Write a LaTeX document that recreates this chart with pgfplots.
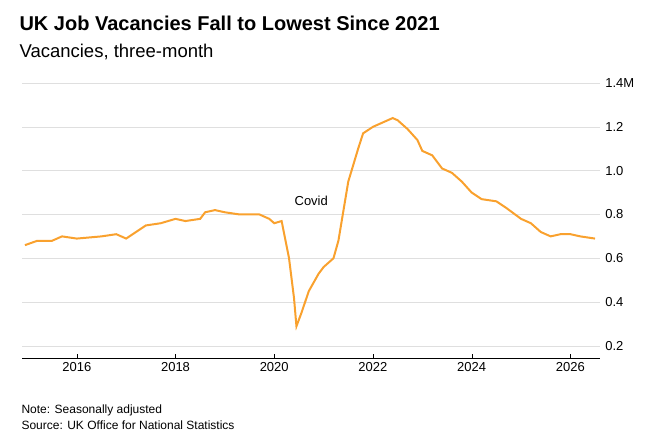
\documentclass[border=0pt]{standalone}
\usepackage{pgfplots}
\pgfplotsset{compat=1.18}
\usepackage{fontspec}
\setmainfont{Liberation Sans}
\definecolor{org}{HTML}{F9A12E}
\begin{document}
\begin{tikzpicture}
\path (0pt,0pt) rectangle (652pt,441pt);
\node[anchor=west,font=\bfseries\fontsize{20}{24}\selectfont] at (16pt,418pt) {UK Job Vacancies Fall to Lowest Since 2021};
\node[anchor=west,font=\fontsize{18.5}{22}\selectfont] at (16pt,389pt) {Vacancies, three-month};
\node[anchor=west,font=\fontsize{12}{14}\selectfont] at (18pt,31pt) {Note: Seasonally adjusted};
\node[anchor=west,font=\fontsize{12}{14}\selectfont] at (18pt,16pt) {Source: UK Office for National Statistics};
\begin{axis}[at={(22pt,83pt)},anchor=south west,scale only axis,width=578pt,height=275pt,
 xmin=2014.89,xmax=2026.6,ymin=0.145,ymax=1.4,
 axis y line*=right, axis x line*=bottom, y axis line style={draw=none},
 ytick={0.2,0.4,0.6,0.8,1.0,1.2,1.4},
 yticklabels={0.2,0.4,0.6,0.8,1.0,1.2,1.4\rlap{M}},
 yticklabel style={anchor=east,xshift=27pt,font=\fontsize{13}{15}\selectfont},
 ymajorgrids, grid style={gray!25},
 xtick={2016,2018,2020,2022,2024,2026},
 xticklabel style={font=\fontsize{13}{15}\selectfont,/pgf/number format/1000 sep={}},
 /pgf/number format/assume math mode=true,
 major tick length=4pt, tick style={black}, ytick style={draw=none},
 x tick label style={yshift=-1pt}, clip=false]
\addplot[org,line width=2pt] coordinates {
(2014.95,0.66)(2015.2,0.68)(2015.5,0.68)(2015.7,0.70)(2016,0.69)(2016.5,0.70)(2016.8,0.71)(2017.0,0.69)(2017.2,0.72)(2017.4,0.75)(2017.7,0.76)(2018.0,0.78)(2018.2,0.77)(2018.5,0.78)(2018.6,0.81)(2018.8,0.82)(2019.0,0.81)(2019.3,0.80)(2019.7,0.80)(2019.9,0.78)(2020.0,0.76)(2020.15,0.77)(2020.3,0.60)(2020.4,0.42)(2020.45,0.29)(2020.55,0.35)(2020.7,0.45)(2020.9,0.53)(2021.0,0.56)(2021.2,0.60)(2021.3,0.68)(2021.5,0.95)(2021.7,1.10)(2021.8,1.17)(2022.0,1.20)(2022.2,1.22)(2022.4,1.24)(2022.5,1.23)(2022.7,1.19)(2022.9,1.14)(2023.0,1.09)(2023.2,1.07)(2023.4,1.01)(2023.6,0.99)(2023.8,0.95)(2024.0,0.90)(2024.2,0.87)(2024.5,0.86)(2024.7,0.83)(2025.0,0.78)(2025.2,0.76)(2025.4,0.72)(2025.6,0.70)(2025.8,0.71)(2026.0,0.71)(2026.2,0.70)(2026.5,0.69)};
\node[font=\fontsize{13}{15}\selectfont] at (axis cs:2020.75,0.86) {Covid};
\end{axis}
\end{tikzpicture}
\end{document}
